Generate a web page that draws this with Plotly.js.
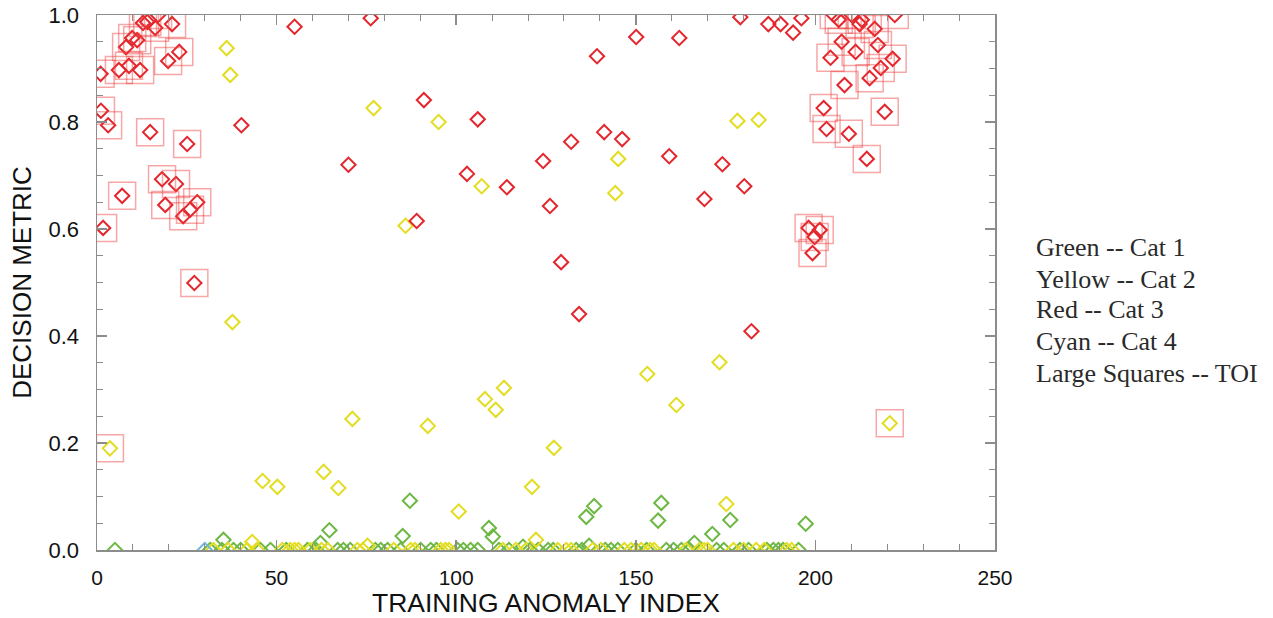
<!DOCTYPE html>
<html>
<head>
<meta charset="utf-8">
<script src="https://cdn.plot.ly/plotly-3.0.1.min.js"></script>
<style>html,body{margin:0;padding:0;background:#fff;}#chart{width:1273px;height:618px;}</style>
</head>
<body>
<div id="chart"></div>
<script>
// Cat 1 (green)
const greenX = [5, 35.2, 64.7, 87.1, 85.1, 109.1, 110.2, 138.4, 136.2, 157.1, 156.2, 171.3, 176.3, 197.3, 166.3, 62.2, 118.6, 137,
  34.8, 38, 45.5, 48.3, 58.6, 67, 68.6, 79, 80.9, 84.5, 90.1, 92.9, 100.4, 104, 111.9, 114.7, 122.8, 125.6, 133.4, 143.1, 158.5, 162.7, 172.5, 181.4, 188.3, 189.7, 195.3,
  31.5, 40, 52.7, 61, 70.5, 77.5, 94.5, 102, 106, 120.5, 127, 135, 141.5, 145, 150, 153, 160.5, 165, 174.5, 179, 186.5, 191];
const greenY = [0, 0.019, 0.037, 0.092, 0.026, 0.041, 0.025, 0.082, 0.062, 0.088, 0.055, 0.03, 0.056, 0.049, 0.013, 0.013, 0.006, 0.008,
  0, 0, 0, 0, 0, 0, 0, 0, 0, 0, 0, 0, 0, 0, 0, 0, 0, 0, 0, 0, 0, 0, 0, 0, 0, 0, 0,
  0, 0, 0, 0, 0, 0, 0, 0, 0, 0, 0, 0, 0, 0, 0, 0, 0, 0, 0, 0, 0, 0];
// Cat 2 (yellow)
const yellowX = [36.1, 37.1, 37.7, 3.6, 220.7, 77, 95.1, 107.1, 85.9, 145.1, 144.3, 178.3, 184.2, 173.3, 153.2, 161.3, 127.2, 121.1, 113.3, 108, 111, 71.1, 92.1, 63.1, 46.1, 50.2, 67.2, 100.7, 175.2, 122.2, 43.2,
  32.4, 41.8, 51.6, 53.8, 56.1, 59.4, 64.2, 72.5, 75.3, 82.6, 87.3, 95.7, 98, 116.6, 128.3, 130.6, 140.3, 146.8, 148.7, 151.5, 155.1, 167.7, 170, 177.2, 183.5, 185.8, 192, 193.4,
  36.5, 44.5, 55, 62.5, 74, 88.5, 97, 113, 119.5, 132, 138, 154, 164, 169, 180];
const yellowY = [0.938, 0.888, 0.426, 0.19, 0.237, 0.826, 0.8, 0.68, 0.606, 0.731, 0.667, 0.802, 0.804, 0.351, 0.329, 0.271, 0.191, 0.118, 0.303, 0.282, 0.262, 0.245, 0.232, 0.146, 0.129, 0.118, 0.116, 0.072, 0.086, 0.019, 0.015,
  0, 0, 0, 0, 0, 0, 0, 0, 0.008, 0, 0, 0, 0, 0, 0, 0, 0, 0, 0, 0, 0, 0, 0, 0, 0, 0, 0, 0,
  0, 0, 0, 0, 0, 0, 0, 0, 0, 0, 0, 0, 0, 0, 0];
// Cat 3 (red)
const redX = [1, 6.1, 8.9, 12, 8.1, 9.8, 11.2, 12.8, 14, 16.2, 17, 20.9, 19.8, 22.9, 1.1, 3.1, 14.8, 25.1, 18.1, 22, 7, 19, 24, 25.9, 27.9, 1.7, 27.1,
  205.1, 206.5, 210.1, 212.9, 212.3, 216.5, 222.1, 207.3, 211.2, 217.4, 204.2, 221.5, 218.2, 215.1, 208.1, 202.3, 219.3, 203.1, 209.3, 214.3, 198.1, 201.2, 199.8, 199.2,
  40.2, 55, 76.2, 91, 106, 70, 103, 114.1, 89, 179.1, 186.9, 190.3, 193.8, 196.1, 150.1, 162.1, 139.2, 141.2, 146.2, 132, 124.2, 159.3, 174.1, 180.2, 169.1, 126.1, 129.2, 134.2, 182.2];
const redY = [0.89, 0.897, 0.905, 0.897, 0.94, 0.957, 0.953, 0.985, 0.987, 0.976, 1.0, 0.983, 0.914, 0.931, 0.821, 0.794, 0.781, 0.759, 0.693, 0.684, 0.662, 0.645, 0.624, 0.636, 0.65, 0.602, 0.499,
  1.0, 0.991, 1.0, 0.991, 0.983, 0.974, 1.0, 0.95, 0.931, 0.944, 0.92, 0.918, 0.901, 0.882, 0.869, 0.826, 0.819, 0.787, 0.778, 0.731, 0.602, 0.598, 0.585, 0.555,
  0.794, 0.978, 0.994, 0.841, 0.805, 0.72, 0.703, 0.678, 0.615, 0.996, 0.983, 0.983, 0.967, 0.994, 0.959, 0.957, 0.923, 0.781, 0.768, 0.763, 0.727, 0.736, 0.721, 0.68, 0.656, 0.643, 0.538, 0.441, 0.409];
// Cat 4 (cyan)
const cyanX = [30];
const cyanY = [0];
// Targets of interest (large squares)
const toiX = [1, 6.1, 8.9, 12, 8.1, 9.8, 11.2, 12.8, 14, 16.2, 17, 20.9, 19.8, 22.9, 1.1, 3.1, 14.8, 25.1, 18.1, 22, 7, 19, 24, 25.9, 27.9, 1.7, 27.1,
  205.1, 206.5, 210.1, 212.9, 212.3, 216.5, 222.1, 207.3, 211.2, 217.4, 204.2, 221.5, 218.2, 215.1, 208.1, 202.3, 219.3, 203.1, 209.3, 214.3, 198.1, 201.2, 199.8, 199.2,
  3.6, 220.7];
const toiY = [0.89, 0.897, 0.905, 0.897, 0.94, 0.957, 0.953, 0.985, 0.987, 0.976, 1.0, 0.983, 0.914, 0.931, 0.821, 0.794, 0.781, 0.759, 0.693, 0.684, 0.662, 0.645, 0.624, 0.636, 0.65, 0.602, 0.499,
  1.0, 0.991, 1.0, 0.991, 0.983, 0.974, 1.0, 0.95, 0.931, 0.944, 0.92, 0.918, 0.901, 0.882, 0.869, 0.826, 0.819, 0.787, 0.778, 0.731, 0.602, 0.598, 0.585, 0.555,
  0.19, 0.237];
const legendLines = ["Green -- Cat 1", "Yellow -- Cat 2", "Red -- Cat 3", "Cyan -- Cat 4", "Large Squares -- TOI"];
const xTicks = [0, 50, 100, 150, 200, 250];
const yTicks = [0.0, 0.2, 0.4, 0.6, 0.8, 1.0];

function diamonds(x, y, color) {
  return {x: x, y: y, type: 'scatter', mode: 'markers', cliponaxis: true, hoverinfo: 'skip',
    marker: {symbol: 'diamond-open', size: 11, color: color, line: {color: color, width: 2}}};
}
const traces = [
  diamonds(greenX, greenY, '#6cb843'),
  diamonds(yellowX, yellowY, '#e3dd22'),
  diamonds(redX, redY, '#e4262d'),
  diamonds(cyanX, cyanY, '#6fb6d8'),
  {x: toiX, y: toiY, type: 'scatter', mode: 'markers', cliponaxis: true, hoverinfo: 'skip',
    marker: {symbol: 'square-open', size: 27, color: 'rgba(238,60,60,0.45)', line: {color: 'rgba(238,60,60,0.45)', width: 1.5}}}
];

const axisCol = '#8c8c8c';
const ys0 = [0.566, 0.5065, 0.4486, 0.3888, 0.329];
const annotations = legendLines.map((t, i) => ({
  text: t, xref: 'paper', yref: 'paper', x: 1.0435, y: ys0[i], xanchor: 'left', yanchor: 'middle',
  showarrow: false, font: {family: 'Liberation Serif, serif', size: 26, color: '#2a2a2a'}
}));

const layout = {
  width: 1273, height: 618,
  margin: {l: 97, r: 278, t: 15, b: 68},
  paper_bgcolor: '#fff', plot_bgcolor: '#fff',
  showlegend: false,
  font: {family: 'Liberation Sans, Arial, sans-serif', color: '#111'},
  xaxis: {
    range: [0, 250], tickvals: xTicks, ticktext: xTicks.map(String),
    ticks: 'inside', ticklen: 10, tickwidth: 1.5, tickcolor: axisCol,
    showline: true, linecolor: axisCol, linewidth: 1.5, mirror: 'ticks',
    showgrid: false, zeroline: false,
    minor: {dtick: 10, tick0: 0, ticks: 'inside', ticklen: 6, tickwidth: 1, tickcolor: axisCol, showgrid: false},
    tickfont: {family: 'Liberation Sans, sans-serif', size: 21, color: '#111'},
    ticklabelstandoff: 8,
    title: {text: 'TRAINING ANOMALY INDEX', standoff: 7,
      font: {family: 'Liberation Sans, sans-serif', size: 26.5, color: '#111'}}
  },
  yaxis: {
    range: [0, 1], tickvals: yTicks, tickformat: '.1f',
    ticks: 'inside', ticklen: 10, tickwidth: 1.5, tickcolor: axisCol,
    showline: true, linecolor: axisCol, linewidth: 1.5, mirror: 'ticks',
    showgrid: false, zeroline: false,
    minor: {dtick: 0.05, tick0: 0, ticks: 'inside', ticklen: 6, tickwidth: 1, tickcolor: axisCol, showgrid: false},
    tickfont: {family: 'Liberation Sans, sans-serif', size: 22, color: '#111'},
    ticklabelstandoff: 12,
    title: {text: 'DECISION METRIC', standoff: 9,
      font: {family: 'Liberation Sans, sans-serif', size: 26, color: '#111'}}
  },
  annotations: annotations
};

Plotly.newPlot('chart', traces, layout, {staticPlot: true, displayModeBar: false});
</script>
</body>
</html>
